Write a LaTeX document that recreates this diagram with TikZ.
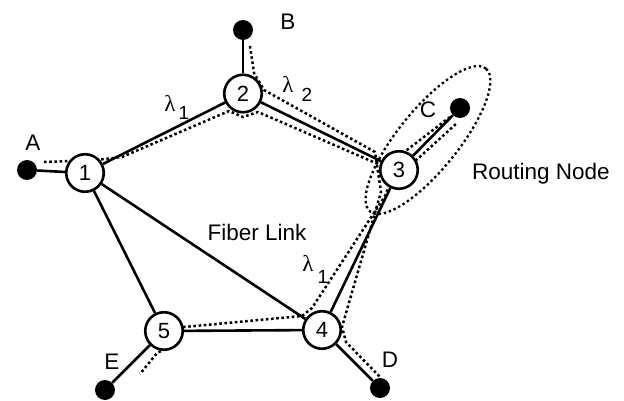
\documentclass[tikz,border=0pt]{standalone}
\usepackage{fontspec}
\setmainfont{Liberation Sans}
\newfontfamily\grk{Liberation Serif}
\usetikzlibrary{backgrounds}
\begin{document}
\begin{tikzpicture}[x=1pt,y=-1pt,
  rnode/.style={circle,draw,line width=2.6pt,fill=white,minimum size=37.5pt,inner sep=0pt,font=\fontsize{22}{24}\selectfont},
  term/.style={circle,fill=black,minimum size=20pt,inner sep=0pt},
  link/.style={line width=2.6pt},
  lpath/.style={line width=2.5pt,dash pattern=on 2.6pt off 2.6pt,line join=round},
  ringline/.style={line width=2.3pt,dash pattern=on 2.4pt off 2.8pt},
  lbl/.style={font=\fontsize{22.5}{24}\selectfont,inner sep=0pt},
  lam/.style={font=\grk\fontsize{23}{24}\selectfont,inner sep=0pt},
  sub/.style={font=\fontsize{19}{20}\selectfont,inner sep=0pt},
]
\useasboundingbox (0,0) rectangle (624,401);

% routing nodes
\node[rnode] (n1) at (85,173) {1};
\node[rnode] (n2) at (243,93.5) {2};
\node[rnode] (n3) at (399,170) {3};
\node[rnode] (n4) at (322,330) {4};
\node[rnode] (n5) at (164,331) {5};
% terminals
\node[term] (A) at (27,170) {};
\node[term] (B) at (243,30) {};
\node[term] (C) at (460,108) {};
\node[term] (D) at (380,388) {};
\node[term] (E) at (105,390) {};

% lightpath waypoints
\coordinate (q1) at (44,162);
\coordinate (q2) at (96,160);
\coordinate (q3) at (122,157);
\coordinate (q4) at (229,111);
\coordinate (q5) at (243,117);
\coordinate (q6) at (258,112);
\coordinate (q7) at (378,164);
\coordinate (q8) at (412,164);
\coordinate (q9) at (457,123);

\coordinate (r1) at (250,46);
\coordinate (r2) at (254,73);
\coordinate (r3) at (264,90);
\coordinate (r4) at (375,152);
\coordinate (r5) at (381,192);
\coordinate (r6) at (342,327);
\coordinate (r7) at (346,342);
\coordinate (r8) at (380,377);

\coordinate (s1) at (450,117);
\coordinate (s2) at (403,153);
\coordinate (s3) at (385,196);
\coordinate (s4) at (312,308);
\coordinate (s5) at (302,316);
\coordinate (s6) at (184,327);
\coordinate (s7) at (172,346);
\coordinate (s8) at (157,353);
\coordinate (s9) at (140,374);

\begin{pgfonlayer}{background}
  % fiber links
  \draw[link] (A) -- (n1);
  \draw[link] (n1) -- (n2);
  \draw[link] (n2) -- (B);
  \draw[link] (n2) -- (n3);
  \draw[link] (n3) -- (C);
  \draw[link] (n1) -- (n4);
  \draw[link] (n1) -- (n5);
  \draw[link] (n5) -- (n4);
  \draw[link] (n4) -- (n3);
  \draw[link] (n4) -- (D);
  \draw[link] (n5) -- (E);
  % lightpaths
  \draw[lpath] (q1) -- (q2) -- (q3) -- (q4) -- (q5) -- (q6) -- (q7) -- (q8) -- (q9);
  \draw[lpath] (r1) -- (r2) -- (r3) -- (r4) -- (r5) -- (r6) -- (r7) -- (r8);
  \draw[lpath] (s1) -- (s2) -- (s3) -- (s4) -- (s5) -- (s6) -- (s7) -- (s8) -- (s9);
\end{pgfonlayer}

% routing node boundary
\draw[ringline,rotate around={51:(428,140)}] (428,140) ellipse [x radius=92pt, y radius=30pt];

% labels
\node[lbl] (lA) at (33,143) {A};
\node[lbl] (lB) at (288,22) {B};
\node[lbl] (lC) at (428,110) {C};
\node[lbl] (lD) at (390,360) {D};
\node[lbl] (lE) at (112,362) {E};
\node[lbl] (fib) at (257,232) {Fiber Link};
\node[lbl] (rout) at (541,174) {Routing Node};

\node[lam] (l1) at (170,103) {λ};
\node[sub] (l1s) at (184,113) {1};
\node[lam] (l2) at (288,84) {λ};
\node[sub] (l2s) at (307,95) {2};
\node[lam] (l3) at (308,263) {λ};
\node[sub] (l3s) at (323,277) {1};
\end{tikzpicture}
\end{document}
